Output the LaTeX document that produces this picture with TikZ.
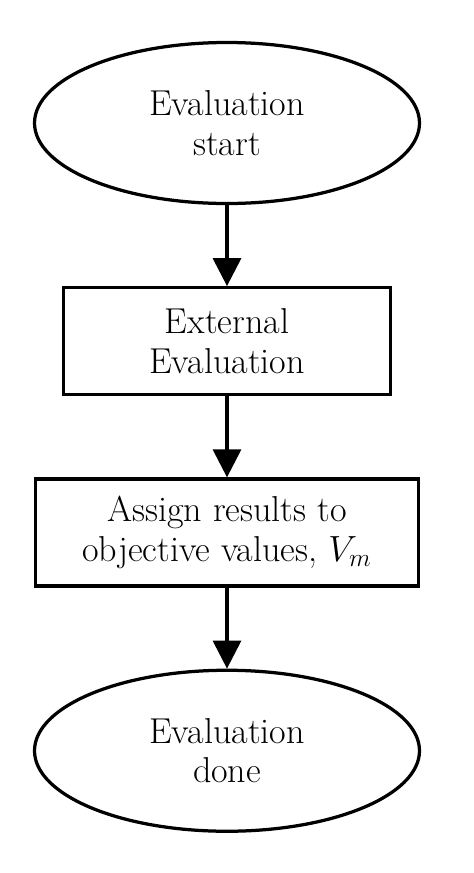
\documentclass[tikz,border=0pt]{standalone}
\usetikzlibrary{positioning,arrows.meta,shapes.geometric}

\begin{document}
\begin{tikzpicture}[
  node distance=1.62cm,
  every node/.style={font=\fontsize{20.5}{22.4}\selectfont, align=center},
  terminal/.style={ellipse,draw,line width=0.065cm,minimum width=7.7cm,minimum height=3.22cm,inner sep=0pt},
  process/.style={rectangle,draw,line width=0.065cm,minimum height=2.14cm},
  flow/.style={-{Triangle[length=0.56cm,width=0.56cm]},line width=0.065cm}
]
\useasboundingbox (0,0) rectangle (9.48,-17.46);

% Flow
\node[terminal] (start) at (4.54,-2.46) {Evaluation\\start};
\node[process, below=of start, minimum width=6.54cm] (ext) {External\\Evaluation};
\node[process, below=of ext, minimum width=7.66cm] (assign) {Assign results to\\objective values, $V_m$};
\node[terminal, below=of assign] (done) {Evaluation\\done};

% Arrows
\draw[flow] (start) -- (ext);
\draw[flow] (ext) -- (assign);
\draw[flow] (assign) -- (done);
\end{tikzpicture}
\end{document}
